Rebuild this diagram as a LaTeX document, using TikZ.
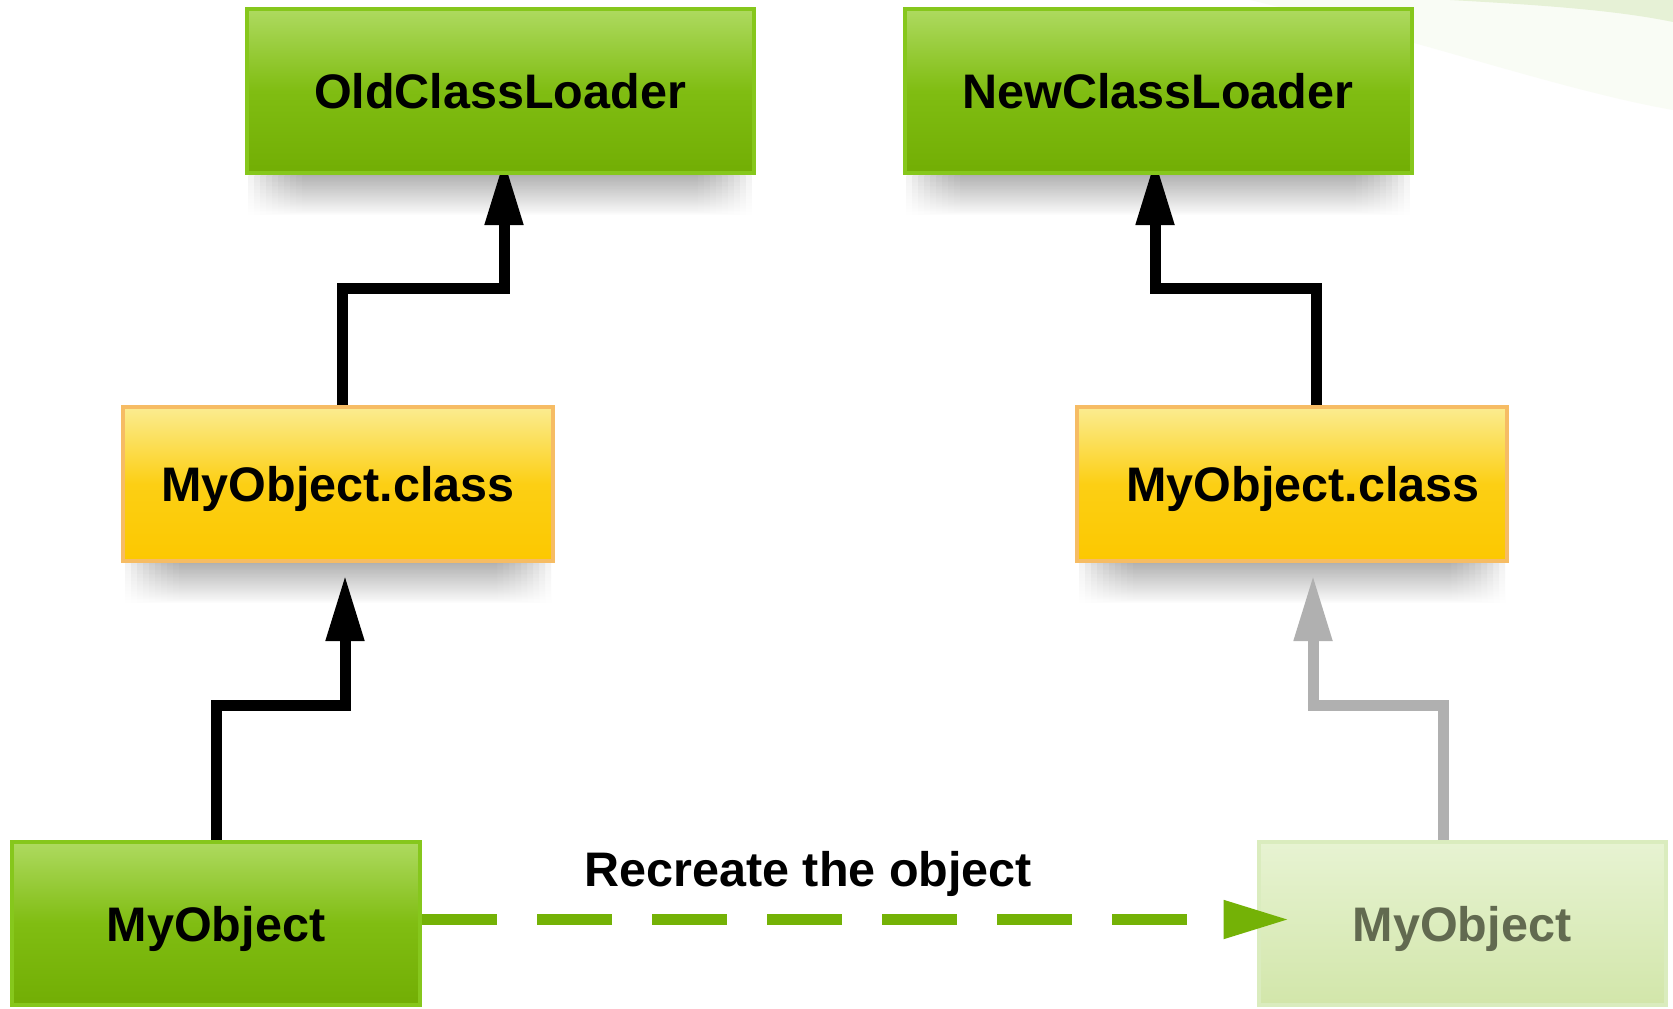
\documentclass[tikz,border=0pt]{standalone}
\usepackage{fontspec}
\setmainfont{Liberation Sans}
\usetikzlibrary{arrows.meta}

\definecolor{greentop}{RGB}{174,218,96}
\definecolor{greenmid}{RGB}{128,189,18}
\definecolor{greenbot}{RGB}{114,174,4}
\definecolor{greenline}{RGB}{134,199,28}
\definecolor{yellowtop}{RGB}{251,236,145}
\definecolor{yellowmid}{RGB}{252,207,20}
\definecolor{yellowbot}{RGB}{252,200,0}
\definecolor{yellowline}{RGB}{246,188,100}
\definecolor{ghosttop}{RGB}{231,243,210}
\definecolor{ghostbot}{RGB}{210,230,170}
\definecolor{ghostline}{RGB}{218,236,190}
\definecolor{ghosttext}{RGB}{98,106,80}
\definecolor{dashgreen}{RGB}{116,178,6}
\definecolor{linkgray}{RGB}{176,176,176}
\definecolor{swoosh}{RGB}{230,241,214}
\definecolor{swooshfaint}{RGB}{249,252,245}

\pgfdeclarelayer{back}
\pgfsetlayers{back,main}

\tikzstyle{box} = [rectangle, inner sep=0pt, text height=35pt, text depth=0pt, font=\fontsize{48.5}{58}\selectfont\bfseries, line width=4pt]
\tikzstyle{loader} = [box, draw=greenline, top color=greentop, bottom color=greenbot, middle color=greenmid, minimum width=507pt, minimum height=164pt]
\tikzstyle{klass} = [box, draw=yellowline, top color=yellowtop, bottom color=yellowbot, middle color=yellowmid, minimum width=430pt, minimum height=154pt]
\tikzstyle{obj} = [box, draw=greenline, top color=greentop, bottom color=greenbot, middle color=greenmid, minimum width=408pt, minimum height=163pt]
\tikzstyle{ghost} = [box, draw=ghostline, top color=ghosttop, bottom color=ghostbot, text=ghosttext, minimum width=407pt, minimum height=163pt]
\tikzstyle{softshadow} = [top color=black!40, bottom color=white, opacity=0.12]
\tikzstyle{link} = [line width=11pt, -{Triangle[length=66pt,width=36pt]}]
\tikzstyle{ghostlink} = [link, draw=linkgray]
\tikzstyle{recreate} = [link, draw=dashgreen, dash pattern=on 75pt off 40pt]
\tikzstyle{recreatetext} = [inner sep=0pt, text height=35pt, text depth=0pt, font=\fontsize{48.5}{58}\selectfont\bfseries]

\begin{document}
\begin{tikzpicture}[x=1pt, y=-1pt]
\useasboundingbox (0,0) rectangle (1673,1009);
\node [loader] (oldcl) at (500,91) {OldClassLoader};
\node [loader, right of=oldcl, node distance=658pt] (newcl) {NewClassLoader};
\node [klass] (oldcls) at (338,484) {MyObject.class};
\node [klass, right of=oldcls, node distance=954pt] (newcls) {\hspace*{22pt}MyObject.class};
\node [obj] (obj) at (216,923.5) {MyObject};
\node [ghost, right of=obj, node distance=1246pt] (copy) {MyObject};
\begin{pgfonlayer}{back}
\fill [white] (0,0) rectangle (1673,1009);
\fill [swooshfaint] (1250,0) .. controls (1420,40) and (1560,90) .. (1673,110) -- (1673,0) -- cycle;
\fill [swoosh] (1450,0) .. controls (1540,5) and (1615,10) .. (1673,22) -- (1673,0) -- cycle;
\foreach \n in {oldcl,newcl,oldcls,newcls}
  \foreach \d in {4,10,...,58}
    \shade [softshadow] ([xshift=\d pt]\n.south west) rectangle ([xshift=-\d pt,yshift=-40pt]\n.south east);
\draw [link, shorten >=-16pt] ([xshift=4pt]oldcls.north) -- ++(0,-117) -| ([xshift=4pt]oldcl.south);
\draw [link, shorten >=-16pt] ([xshift=24pt]newcls.north) -- ++(0,-117) -| ([xshift=-3pt]newcl.south);
\end{pgfonlayer}
\draw [link, shorten >=12pt] (obj.north) -- ++(0,-135) -| ([xshift=7pt]oldcls.south);
\draw [ghostlink, shorten >=12pt] ([xshift=-19pt]copy.north) -- ++(0,-135) -| ([xshift=21pt]newcls.south);
\draw [recreate, shorten >=-33pt] ([yshift=4pt]obj.east) -- ([yshift=4pt]copy.west)
  node [recreatetext, pos=0.463, above=28pt] (note) {Recreate the object};
\end{tikzpicture}
\end{document}
